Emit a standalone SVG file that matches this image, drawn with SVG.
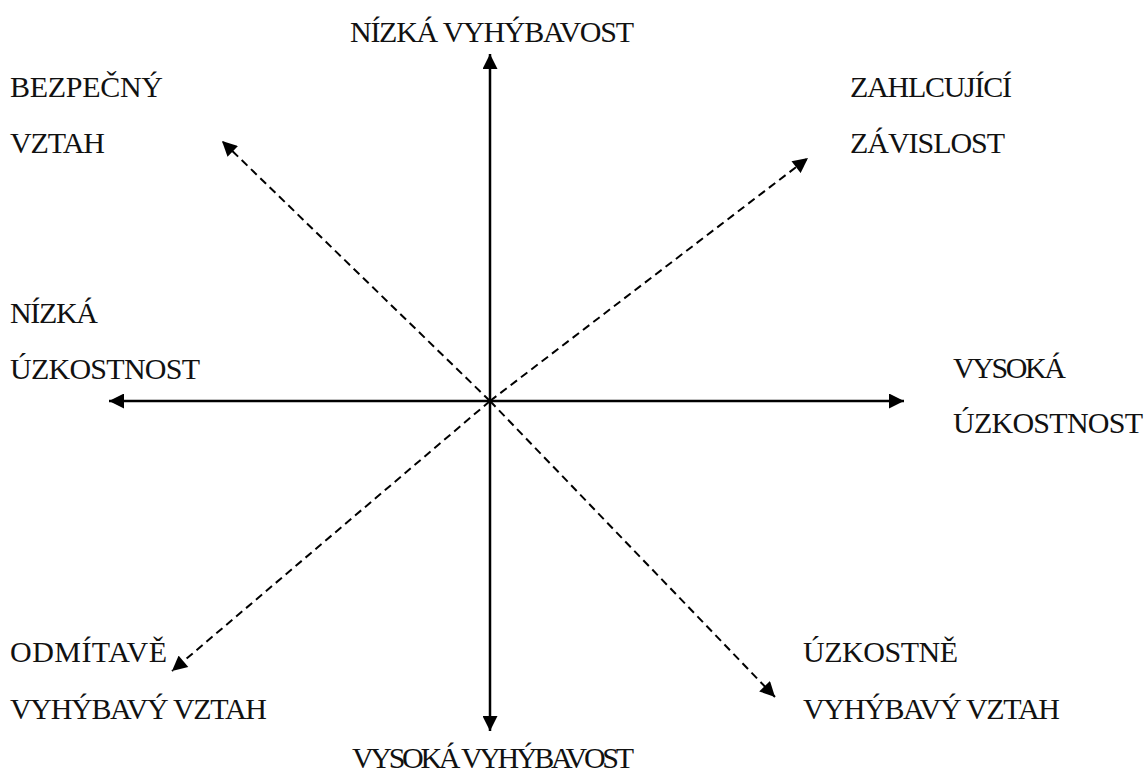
<svg xmlns="http://www.w3.org/2000/svg" width="1148" height="776" viewBox="0 0 1148 776">
<style>
text{font-family:"Liberation Serif","DejaVu Serif",serif;font-size:30px;fill:#111}
.ax{stroke:#000;stroke-width:2.5;fill:none}
.dg{stroke:#000;stroke-width:2;stroke-dasharray:8,5;fill:none}
</style>
<defs>
<marker id="ahb" viewBox="0 0 10 10" refX="10" refY="5" markerWidth="16" markerHeight="15" markerUnits="userSpaceOnUse" orient="auto"><path d="M0,0L10,5L0,10z" fill="#000"/></marker>
</defs>
<rect width="1148" height="776" fill="#fff"/>
<g id="connectors">
<line class="ax" x1="490" y1="401" x2="490" y2="54" marker-end="url(#ahb)"/>
<line class="ax" x1="490" y1="401" x2="490" y2="731" marker-end="url(#ahb)"/>
<line class="ax" x1="490" y1="401" x2="109" y2="401" marker-end="url(#ahb)"/>
<line class="ax" x1="490" y1="401" x2="904" y2="401" marker-end="url(#ahb)"/>
<line class="dg" x1="490" y1="401" x2="222" y2="141" marker-end="url(#ahb)"/>
<line class="dg" x1="490" y1="401" x2="808" y2="158" marker-end="url(#ahb)"/>
<line class="dg" x1="490" y1="401" x2="172" y2="671" marker-end="url(#ahb)"/>
<line class="dg" x1="490" y1="401" x2="775" y2="697" marker-end="url(#ahb)"/>
</g>
<g id="n-top"><text x="350" y="42" textLength="284">NÍZKÁ VYHÝBAVOST</text></g>
<g id="n-bottom"><text x="352" y="768" textLength="282">VYSOKÁ VYHÝBAVOST</text></g>
<g id="n-tl"><text x="10" y="97" textLength="153">BEZPEČNÝ</text><text x="10" y="153" textLength="95">VZTAH</text></g>
<g id="n-tr"><text x="850" y="97" textLength="162">ZAHLCUJÍCÍ</text><text x="850" y="153" textLength="155">ZÁVISLOST</text></g>
<g id="n-left"><text x="10" y="323" textLength="88">NÍZKÁ</text><text x="10" y="379" textLength="190">ÚZKOSTNOST</text></g>
<g id="n-right"><text x="953" y="378" textLength="113">VYSOKÁ</text><text x="953" y="433" textLength="190">ÚZKOSTNOST</text></g>
<g id="n-bl"><text x="10" y="662" textLength="157">ODMÍTAVĚ</text><text x="10" y="719" textLength="257">VYHÝBAVÝ VZTAH</text></g>
<g id="n-br"><text x="803" y="662" textLength="155">ÚZKOSTNĚ</text><text x="803" y="719" textLength="257">VYHÝBAVÝ VZTAH</text></g>
</svg>
